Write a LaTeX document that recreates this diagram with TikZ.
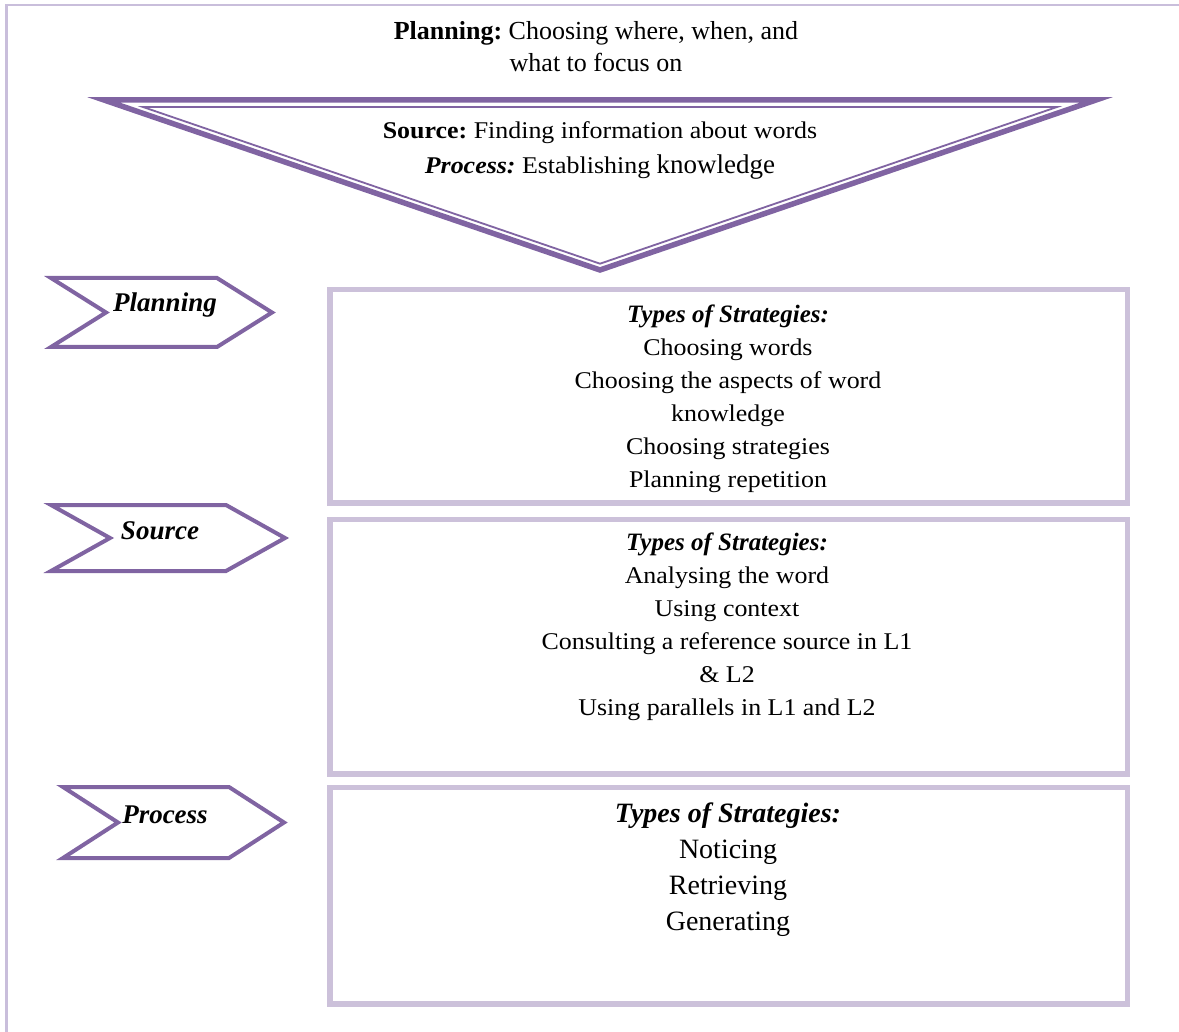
\documentclass[tikz,border=0pt]{standalone}
\usepackage{fontspec}
\setmainfont{Liberation Serif}
\newfontfamily\cam[FakeStretch=1.08]{Liberation Serif}
\frenchspacing
\definecolor{darkpurple}{HTML}{8064A2}
\definecolor{lavender}{HTML}{CCC1DA}
\definecolor{framecol}{HTML}{C9BEDB}
\tikzset{
  chevron/.style={draw=darkpurple, line width=4pt, line join=miter},
  stratbox/.style={draw=lavender, line width=5.5pt},
  chevlabel/.style={font=\fontsize{27}{30}\selectfont\bfseries\itshape, inner sep=0pt},
  boxtext/.style={align=center, inner sep=0pt, font=\cam\fontsize{24}{33}\selectfont},
}
\begin{document}
\begin{tikzpicture}[x=1pt,y=-1pt]
\useasboundingbox (0,0) rectangle (1179,1032);
% page frame
\draw[framecol, line width=2.2pt] (6.5,1032) -- (6.5,5) -- (1179,5);

% top text
\node[align=center, inner sep=0pt, font=\fontsize{26}{32}\selectfont] (top) at (596,47)
  {\textbf{Planning:} Choosing where, when, and\\what to focus on};

% inverted triangle (thick-thin double line)
\draw[darkpurple, line width=5.5pt, line join=miter] (104,100) -- (1096,100) -- (600,270) -- cycle;
\draw[darkpurple, line width=1.8pt, line join=miter] (143,107) -- (1057,107) -- (600,263.7) -- cycle;
\node[align=center, inner sep=0pt, font=\cam\fontsize{24}{35}\selectfont] (tri) at (600,150)
  {\textbf{Source:} Finding information about words\\
   \textbf{\textit{Process:}} Establishing {\normalfont\fontsize{27}{35}\selectfont knowledge}};

% chevrons
\draw[chevron] (51,278) -- (217,278) -- (272,312.5) -- (217,347) -- (51,347) -- (106,312.5) -- cycle;
\draw[chevron] (51,505) -- (226,505) -- (285,538) -- (226,571) -- (51,571) -- (110,538) -- cycle;
\draw[chevron] (63,787) -- (229,787) -- (284,822.5) -- (229,858) -- (63,858) -- (118,822.5) -- cycle;
\node[chevlabel] (lplan) at (165,305) {Planning};
\node[chevlabel] (lsrc) at (160,531) {Source};
\node[chevlabel] (lproc) at (165,815) {Process};

% strategy boxes
\draw[stratbox] (330,289.5) rectangle (1127.5,503);
\draw[stratbox] (330,519.5) rectangle (1127.5,774);
\draw[stratbox] (330,787.5) rectangle (1127.5,1004);

\node[boxtext] (b1) at (728,398.5)
  {{\normalfont\fontsize{25}{33}\selectfont\bfseries\itshape Types of Strategies:}\\
   Choosing words\\Choosing the aspects of word\\knowledge\\Choosing strategies\\Planning repetition};
\node[boxtext] (b2) at (727,627)
  {{\normalfont\fontsize{25}{33}\selectfont\bfseries\itshape Types of Strategies:}\\
   Analysing the word\\Using context\\Consulting a reference source in L1\\\& L2\\Using parallels in L1 and L2};
\node[align=center, inner sep=0pt, font=\fontsize{28}{36}\selectfont] (b3) at (728,869.5)
  {\textbf{\textit{Types of Strategies:}}\\Noticing\\Retrieving\\Generating};
\end{tikzpicture}
\end{document}
